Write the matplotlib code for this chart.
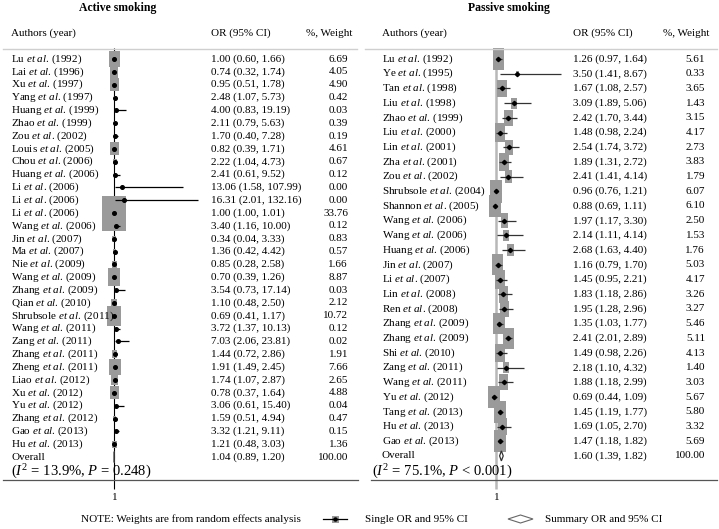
import numpy as np
import matplotlib
matplotlib.use("Agg")
import matplotlib.pyplot as plt
from matplotlib.patches import Rectangle, Polygon
from matplotlib.lines import Line2D

plt.rcParams['font.family'] = ['Liberation Serif', 'DejaVu Serif']
plt.rcParams['mathtext.fontset'] = 'custom'
plt.rcParams['mathtext.rm'] = 'Liberation Serif'
plt.rcParams['mathtext.it'] = 'Liberation Serif:italic'
plt.rcParams['mathtext.bf'] = 'Liberation Serif:bold'

# ---------------- data: active smoking ----------------
names_a = ["Lu", "Lai", "Xu", "Yang", "Huang", "Zhao", "Zou", "Louis", "Chou", "Huang",
           "Li", "Li", "Li", "Wang", "Jin", "Ma", "Nie", "Wang", "Zhang", "Qian",
           "Shrubsole", "Wang", "Zang", "Zhang", "Zheng", "Liao", "Xu", "Yu", "Zhang", "Gao", "Hu"]
years_a = [1992, 1996, 1997, 1997, 1999, 1999, 2002, 2005, 2006, 2006,
           2006, 2006, 2006, 2006, 2007, 2007, 2009, 2009, 2009, 2010,
           2011, 2011, 2011, 2011, 2011, 2012, 2012, 2012, 2012, 2013, 2013]
or_a = [1.00, 0.74, 0.95, 2.48, 4.00, 2.11, 1.70, 0.82, 2.22, 2.41,
        13.06, 16.31, 1.00, 3.40, 0.34, 1.36, 0.85, 0.70, 3.54, 1.10,
        0.69, 3.72, 7.03, 1.44, 1.91, 1.74, 0.78, 3.06, 1.59, 3.32, 1.21]
lo_a = [0.60, 0.32, 0.51, 1.07, 0.83, 0.79, 0.40, 0.39, 1.04, 0.61,
        1.58, 2.01, 1.00, 1.16, 0.04, 0.42, 0.28, 0.39, 0.73, 0.48,
        0.41, 1.37, 2.06, 0.72, 1.49, 1.07, 0.37, 0.61, 0.51, 1.21, 0.48]
hi_a = [1.66, 1.74, 1.78, 5.73, 19.19, 5.63, 7.28, 1.71, 4.73, 9.52,
        107.99, 132.16, 1.01, 10.00, 3.33, 4.42, 2.58, 1.26, 17.14, 2.50,
        1.17, 10.13, 23.81, 2.86, 2.45, 2.87, 1.64, 15.40, 4.94, 9.11, 3.03]
w_a = [6.69, 4.05, 4.90, 0.42, 0.03, 0.39, 0.19, 4.61, 0.67, 0.12,
       0.00, 0.00, 33.76, 0.12, 0.83, 0.57, 1.66, 8.87, 0.03, 2.12,
       10.72, 0.12, 0.02, 1.91, 7.66, 2.65, 4.88, 0.04, 0.47, 0.15, 1.36]
overall_a = [1.04, 0.89, 1.20]
het_a = r"($I^2$ = 13.9%, $P$ = 0.248)"

# ---------------- data: passive smoking ----------------
names_p = ["Lu", "Ye", "Tan", "Liu", "Zhao", "Liu", "Lin", "Zha", "Zou", "Shrubsole",
           "Shannon", "Wang", "Wang", "Huang", "Jin", "Li", "Lin", "Ren", "Zhang", "Zhang",
           "Shi", "Zang", "Wang", "Yu", "Tang", "Hu", "Gao"]
years_p = [1992, 1995, 1998, 1998, 1999, 2000, 2001, 2001, 2002, 2004,
           2005, 2006, 2006, 2006, 2007, 2007, 2008, 2008, 2009, 2009,
           2010, 2011, 2011, 2012, 2013, 2013, 2013]
or_p = [1.26, 3.50, 1.67, 3.09, 2.42, 1.48, 2.54, 1.89, 2.41, 0.96,
        0.88, 1.97, 2.14, 2.68, 1.16, 1.45, 1.83, 1.95, 1.35, 2.41,
        1.49, 2.18, 1.88, 0.69, 1.45, 1.69, 1.47]
lo_p = [0.97, 1.41, 1.08, 1.89, 1.70, 0.98, 1.74, 1.31, 1.41, 0.76,
        0.69, 1.17, 1.11, 1.63, 0.79, 0.95, 1.18, 1.28, 1.03, 2.01,
        0.98, 1.10, 1.18, 0.44, 1.19, 1.05, 1.18]
hi_p = [1.64, 8.67, 2.57, 5.06, 3.44, 2.24, 3.72, 2.72, 4.14, 1.21,
        1.11, 3.30, 4.14, 4.40, 1.70, 2.21, 2.86, 2.96, 1.77, 2.89,
        2.26, 4.32, 2.99, 1.09, 1.77, 2.70, 1.82]
w_p = [5.61, 0.33, 3.65, 1.43, 3.15, 4.17, 2.73, 3.83, 1.79, 6.07,
       6.10, 2.50, 1.53, 1.76, 5.03, 4.17, 3.26, 3.27, 5.46, 5.11,
       4.13, 1.40, 3.03, 5.67, 5.80, 3.32, 5.69]
overall_p = [1.60, 1.39, 1.82]
het_p = r"($I^2$ = 75.1%, $P$ < 0.001)"

W, H = 719, 529
fig = plt.figure(figsize=(W / 100, H / 100), dpi=100)

FS = 8


def fx(px):
    return px / W


def fy(py):
    return 1 - py / H


def panel(x0px, x1px, one_px, ppu, row0, rowsp, names, years, ors, los, his, ws, overall, het,
          title, title_cx, name_x, or_x, w_x, het_x, vcol, vlw, ccol, bw_k, bh_k, dia_h, mk, ms):
    ax = fig.add_axes([fx(x0px), 0, fx(x1px) - fx(x0px), 1])
    ax.axis('off')
    ax.set_xlim(1 - (one_px - x0px) / ppu, 1 + (x1px - one_px) / ppu)
    ax.set_ylim((H - row0) / rowsp, -row0 / rowsp)

    n = len(names)
    # reference line at 1
    ax.vlines(1, (48 - row0) / rowsp, (489 - row0) / rowsp, color=vcol, lw=vlw, zorder=1)
    # boxes
    for i in range(n):
        sw = np.sqrt(ws[i])
        bw = bw_k * sw
        bh = bh_k * sw
        ax.add_patch(Rectangle((ors[i] - bw / 2, i - bh / 2), bw, bh,
                               facecolor='#9a9a9a', edgecolor='none', zorder=2))
    ys = np.arange(n)
    ax.hlines(ys, los, his, color=ccol, lw=0.9, zorder=3)
    ax.plot(ors, ys, linestyle='none', marker=mk, ms=ms, color='black', zorder=4)
    # overall diamond
    o, l, h = overall
    ax.add_patch(Polygon([(l, n), (o, n - dia_h), (h, n), (o, n + dia_h)], closed=True,
                         facecolor='white', edgecolor='#333333', lw=0.9, zorder=4))

    tx = ax.get_yaxis_transform()  # x in axes, y in data
    def axx(px):
        return (px - x0px) / (x1px - x0px)

    for i in range(n):
        ax.text(axx(name_x), i, f"{names[i]} $\\mathit{{et\\ al}}$. ({years[i]})",
                transform=tx, ha='left', va='center', fontsize=FS)
        ax.text(axx(or_x), i, f"{ors[i]:.2f} ({los[i]:.2f}, {his[i]:.2f})",
                transform=tx, ha='left', va='center', fontsize=FS)
        ax.text(axx(w_x), i, f"{ws[i]:.2f}", transform=tx, ha='right', va='center', fontsize=FS)
    ax.text(axx(name_x), n, "Overall", transform=tx, ha='left', va='center', fontsize=FS)
    ax.text(axx(or_x), n, f"{o:.2f} ({l:.2f}, {h:.2f})", transform=tx, ha='left',
            va='center', fontsize=FS)
    ax.text(axx(w_x), n, "100.00", transform=tx, ha='right', va='center', fontsize=FS)

    # figure-level texts
    fig.text(fx(het_x), fy(472), het, ha='left', va='center', fontsize=10.5)
    fig.text(fx(title_cx), fy(8), title, ha='center', va='center', fontsize=8.5,
             fontweight='bold')
    fig.text(fx(name_x), fy(33), "Authors (year)", ha='left', va='center', fontsize=FS)
    fig.text(fx(or_x), fy(33), "OR (95% CI)", ha='left', va='center', fontsize=FS)
    fig.text(fx(w_x + 4), fy(33), "%, Weight", ha='right', va='center', fontsize=FS)
    fig.text(fx(one_px), fy(498), "1", ha='center', va='center', fontsize=FS)
    return ax


axA = panel(0, 360, 114.3, 0.64, 59, 12.84, names_a, years_a, or_a, lo_a, hi_a, w_a,
            overall_a, het_a, "Active smoking", 118, 11, 211, 348, 11,
            'black', 0.8, 'black', 4.08 / 0.64, 6.02 / 12.84, 0.43, 'o', 2.6)
axP = panel(360, 719, 496.3, 8.45, 59, 14.7, names_p, years_p, or_p, lo_p, hi_p, w_p,
            overall_p, het_p, "Passive smoking", 509, 382, 573, 705, 372,
            '#b8b8b8', 1.8, '#333333', 4.94 / 8.45, 9.29 / 14.7, 0.34, 'D', 2.2)

# header and bottom rules
for (a, b) in [(3, 357), (365, 717)]:
    fig.add_artist(Line2D([fx(a), fx(b)], [fy(48.5), fy(48.5)], color='#cfcfcf', lw=1.0))
for (a, b) in [(3, 358), (371, 717)]:
    fig.add_artist(Line2D([fx(a), fx(b)], [fy(479.5), fy(479.5)], color='#555555', lw=0.9))

# legend / note
fig.text(fx(81), fy(519), "NOTE: Weights are from random effects analysis", ha='left',
         va='center', fontsize=FS)
fig.add_artist(Rectangle((fx(331.5), fy(522.5)), fx(7), 7 / H, facecolor='#9a9a9a',
                         edgecolor='none', transform=fig.transFigure))
fig.add_artist(Line2D([fx(323), fx(347)], [fy(519), fy(519)], color='black', lw=0.9))
fig.add_artist(Line2D([fx(335)], [fy(519)], marker='o', ms=2.2, color='black'))
fig.text(fx(365), fy(519), "Single OR and 95% CI", ha='left', va='center', fontsize=FS)
fig.add_artist(Polygon([(fx(508), fy(519)), (fx(520.5), fy(515)), (fx(533), fy(519)),
                        (fx(520.5), fy(523))], closed=True, facecolor='white',
                       edgecolor='#666666', lw=0.8, transform=fig.transFigure))
fig.text(fx(545), fy(519), "Summary OR and 95% CI", ha='left', va='center', fontsize=FS)

fig.savefig("out.png", dpi=100)
